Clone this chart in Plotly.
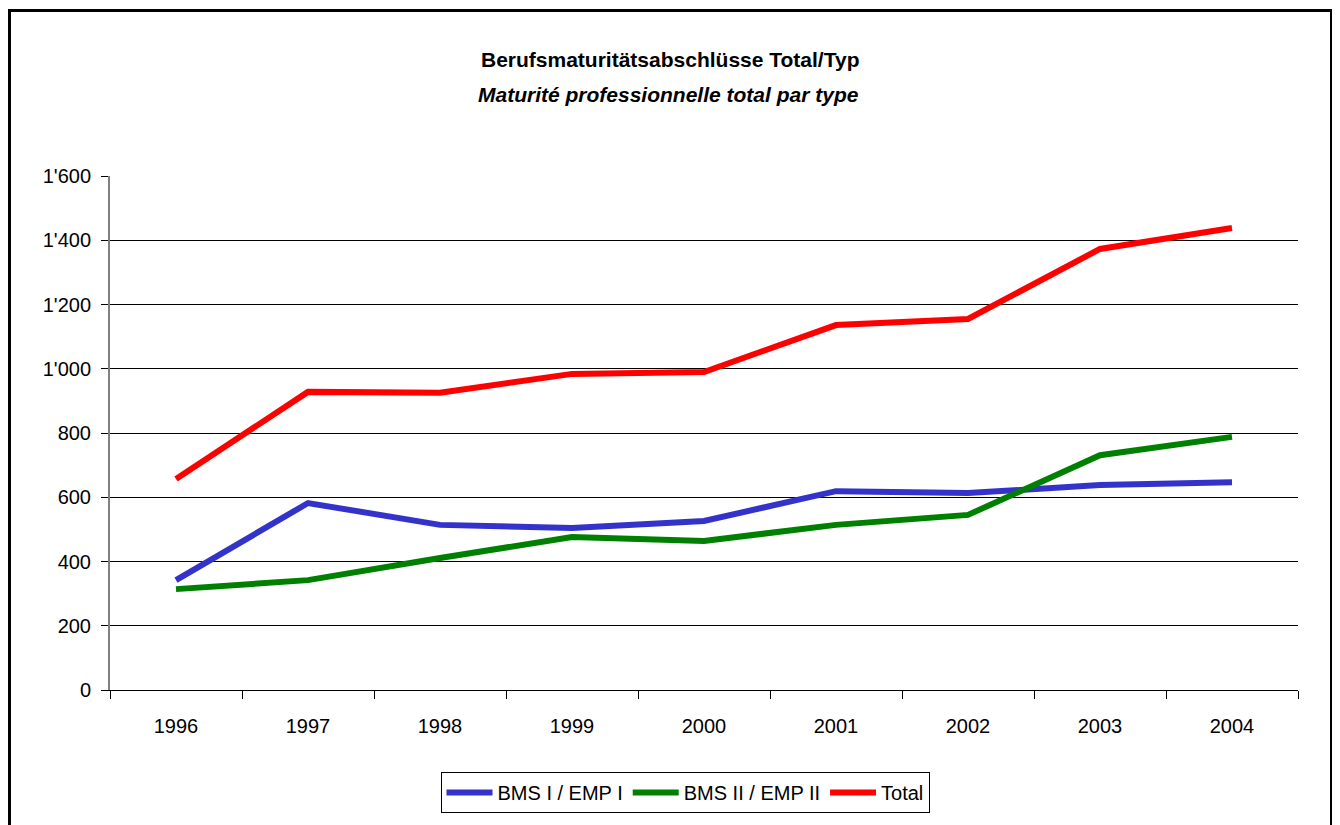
import plotly.graph_objects as go

years = ["1996", "1997", "1998", "1999", "2000", "2001", "2002", "2003", "2004"]
bms1 = [342, 582, 514, 504, 526, 619, 613, 638, 647]
bms2 = [314, 342, 411, 476, 464, 514, 545, 731, 788]
total = [657, 928, 925, 984, 990, 1136, 1155, 1373, 1438]
names = ["BMS I / EMP I", "BMS II / EMP II", "Total"]
colors = ["#3333CC", "#008000", "#FF0000"]
y_ticks = [0, 200, 400, 600, 800, 1000, 1200, 1400, 1600]

FONT = "Liberation Sans, Arial, sans-serif"

fig = go.Figure()
for name, vals, col in zip(names, [bms1, bms2, total], colors):
    fig.add_trace(go.Scatter(x=years, y=vals, mode="lines", name=name,
                             line=dict(color=col, width=6)))

OFF = 8  # default page body margin
W, H = 1340 - OFF, 825 - OFF
# plot area in page pixels
L, R, T, B = 110, 1298, 176, 690

def px_x(p):
    return (p - L) / (R - L)

def px_y(p):
    return (B - p) / (B - T)

fig.update_layout(
    width=W, height=H,
    margin=dict(l=L - OFF, r=W - (R - OFF), t=T - OFF, b=H - (B - OFF), autoexpand=False),
    paper_bgcolor="white", plot_bgcolor="white",
    font=dict(family=FONT, size=20, color="black"),
    separators=".'",
    showlegend=True,
    legend=dict(orientation="h", x=px_x(685), xanchor="center", y=px_y(772), yanchor="top",
                bordercolor="black", borderwidth=1, font=dict(size=20),
                itemwidth=46, tracegroupgap=0),
    xaxis=dict(type="category", range=[-0.5, 8.5], tickson="boundaries", ticks="outside",
               ticklen=8, tickcolor="black", tickwidth=1, showline=True, linecolor="black",
               linewidth=1, showgrid=False, ticklabelstandoff=18, zeroline=False),
    yaxis=dict(range=[0, 1600], tickvals=y_ticks, tickformat=",d", ticks="outside",
               ticklen=7, tickcolor="black", showline=True, linecolor="#808080",
               linewidth=2, showgrid=True, gridcolor="black", gridwidth=1,
               zeroline=False, ticklabelstandoff=6),
    annotations=[
        dict(text="<b>Berufsmaturitätsabschlüsse Total/Typ</b>", xref="paper", yref="paper",
             x=px_x(670), y=px_y(60), xanchor="center", yanchor="middle", showarrow=False,
             font=dict(size=21)),
        dict(text="<b><i>Maturité professionnelle total par type</i></b>", xref="paper",
             yref="paper", x=px_x(668), y=px_y(95), xanchor="center", yanchor="middle",
             showarrow=False, font=dict(size=21)),
    ],
    shapes=[
        dict(type="rect", xref="paper", yref="paper", x0=px_x(OFF + 1.5), x1=px_x(1331.5),
             y0=px_y(860), y1=px_y(10.5), line=dict(color="black", width=3),
             fillcolor="rgba(0,0,0,0)", layer="below"),
    ],
)

fig.write_html("out.html")
